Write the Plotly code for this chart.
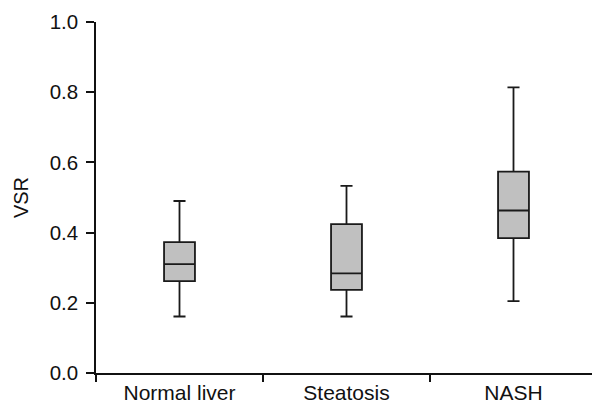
import plotly.graph_objects as go

categories = ["Normal liver", "Steatosis", "NASH"]
lower = [0.161, 0.161, 0.205]
q1 = [0.262, 0.237, 0.384]
median = [0.310, 0.284, 0.463]
q3 = [0.373, 0.424, 0.574]
upper = [0.490, 0.533, 0.814]
y_ticks = [0.0, 0.2, 0.4, 0.6, 0.8, 1.0]
y_ticklabels = ["0.0", "0.2", "0.4", "0.6", "0.8", "1.0"]

fig = go.Figure()
fig.add_trace(go.Box(
    x=categories, q1=q1, median=median, q3=q3,
    lowerfence=lower, upperfence=upper,
    fillcolor="#c0c0c0",
    line=dict(color="#1a1a1a", width=1.8),
    width=0.185, whiskerwidth=0.39,
    boxpoints=False, showlegend=False, hoverinfo="skip",
))

font = "Liberation Sans, Arial, sans-serif"
# the page body has an 8px default margin, so the figure is 8px smaller
fig.update_layout(
    width=592, height=397,
    margin=dict(l=88, r=3, t=14, b=32, autoexpand=False),
    paper_bgcolor="white", plot_bgcolor="white",
    font=dict(family=font, color="#111111", size=20),
    xaxis=dict(
        type="category", range=[-0.5, 2.5],
        showline=True, linecolor="#111111", linewidth=1.5,
        ticks="outside", tickson="boundaries", ticklen=7, tickwidth=1.5, tickcolor="#111111",
        showgrid=False, zeroline=False, automargin=False,
        tickfont=dict(size=21),
    ),
    yaxis=dict(
        range=[0, 1.0], tickvals=y_ticks, ticktext=y_ticklabels,
        showline=True, linecolor="#111111", linewidth=1.5,
        ticks="outside", ticklen=8, tickwidth=1.5, tickcolor="#111111",
        showgrid=False, zeroline=False, automargin=False,
        ticklabelstandoff=4,
        title=dict(text="VSR", font=dict(size=20), standoff=16),
        tickfont=dict(size=20.5),
    ),
)

fig.write_html("out.html")
